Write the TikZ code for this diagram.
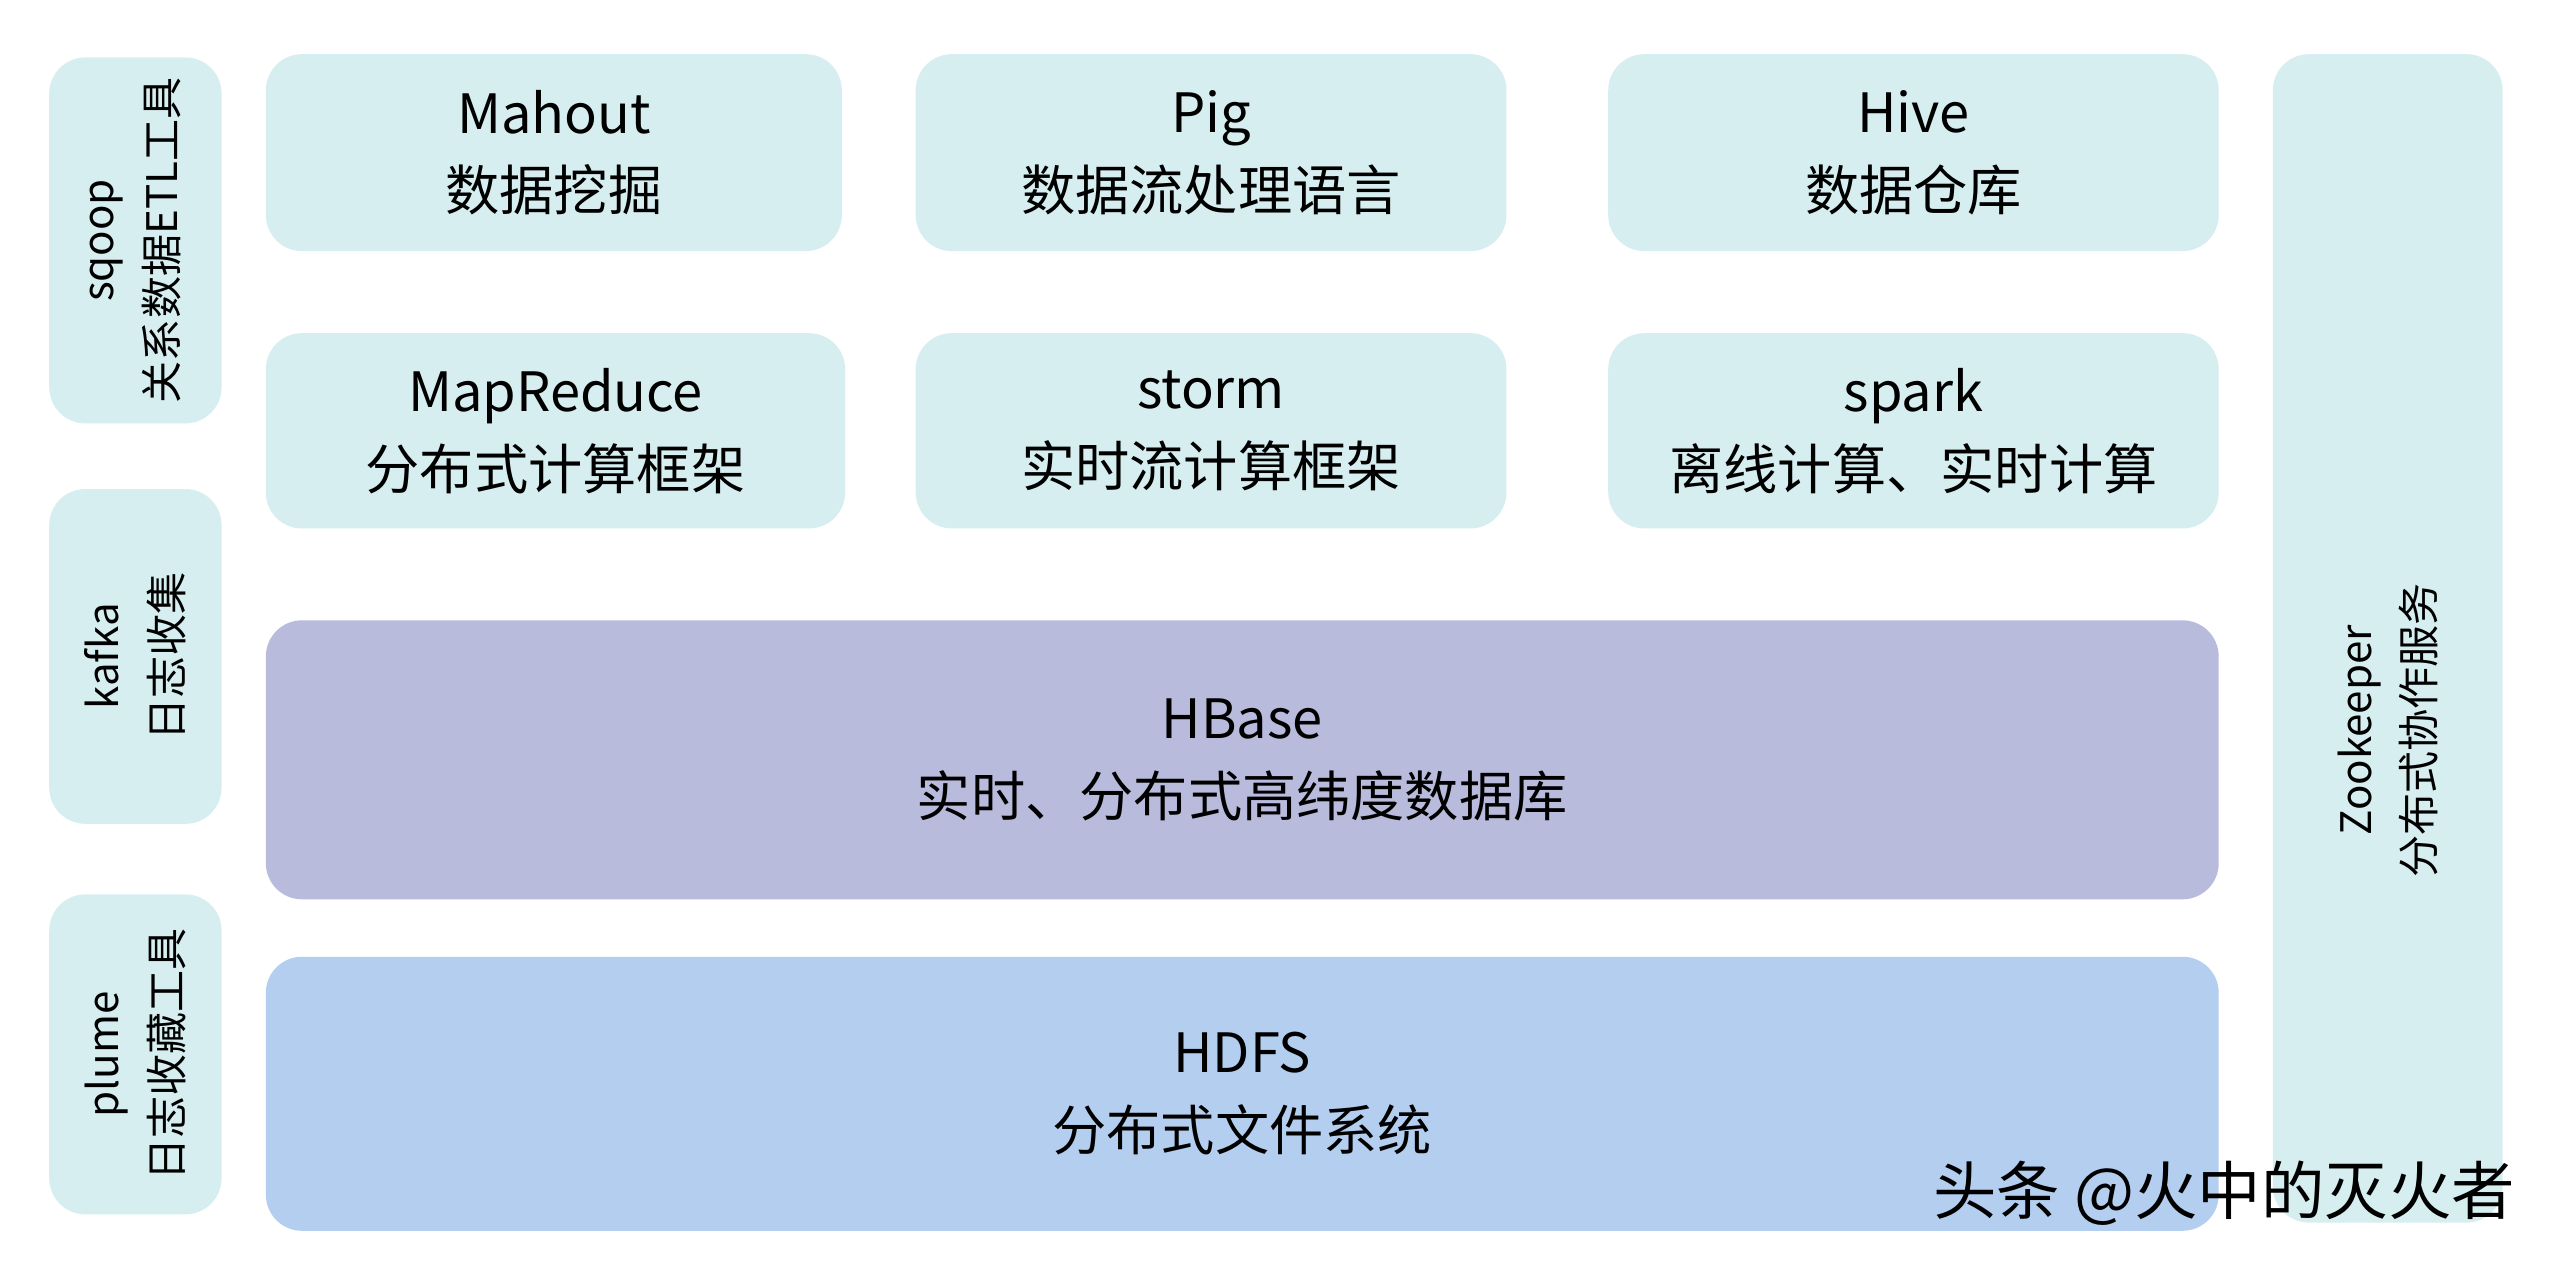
\documentclass[tikz,border=0pt]{standalone}
\usepackage{fontspec}
\setmainfont{Noto Sans CJK SC}
\usetikzlibrary{positioning}
\definecolor{lightbox}{HTML}{D6EEF0}
\definecolor{hbasebox}{HTML}{B9BBDC}
\definecolor{hdfsbox}{HTML}{B4CEF0}
\tikzset{
  layer/.style={rounded corners=0.22cm, fill=lightbox, align=center, inner sep=0pt,
    font=\fontsize{9.4}{13.5}\selectfont},
  sidebox/.style={layer},
  sidetext/.style={rotate=90, align=center, font=\fontsize{7.3}{11}\selectfont},
}
\begin{document}
\begin{tikzpicture}[y=-1cm]
  \useasboundingbox[fill=white] (0,0) rectangle (15.6,7.76);
  % left column
  \node[sidebox, minimum width=1.05cm, minimum height=2.23cm] (sqoop) at (0.825,1.465) {};
  \node[sidetext] (sqooptxt) at (sqoop) {sqoop\\关系数据ETL工具};
  \node[sidebox, minimum width=1.05cm, minimum height=2.04cm] (kafka) at (0.825,4.0) {};
  \node[sidetext] (kafkatxt) at (kafka) {kafka\\日志收集};
  \node[sidebox, minimum width=1.05cm, minimum height=1.95cm] (plume) at (0.825,6.425) {};
  \node[sidetext] (plumetxt) at (plume) {plume\\日志收藏工具};
  % top rows
  \node[layer, minimum width=3.51cm, minimum height=1.2cm] (mahout) at (3.375,0.93) {Mahout\\数据挖掘};
  \node[layer, minimum width=3.6cm, minimum height=1.2cm] (pig) at (7.38,0.93) {Pig\\数据流处理语言};
  \node[layer, minimum width=3.72cm, minimum height=1.2cm] (hive) at (11.66,0.93) {Hive\\数据仓库};
  \node[layer, minimum width=3.53cm, minimum height=1.19cm] (mapreduce) at (3.385,2.625) {MapReduce\\分布式计算框架};
  \node[layer, minimum width=3.6cm, minimum height=1.19cm] (storm) at (7.38,2.625) {storm\\实时流计算框架};
  \node[layer, minimum width=3.72cm, minimum height=1.19cm] (spark) at (11.66,2.625) {spark\\离线计算、实时计算};
  % storage
  \node[layer, fill=hbasebox, minimum width=11.9cm, minimum height=1.7cm] (hbase) at (7.57,4.63) {HBase\\实时、分布式高纬度数据库};
  \node[layer, fill=hdfsbox, minimum width=11.9cm, minimum height=1.67cm] (hdfs) at (7.57,6.665) {HDFS\\分布式文件系统};
  % right column
  \node[sidebox, minimum width=1.4cm, minimum height=7.12cm] (zk) at (14.55,3.89) {};
  \node[sidetext] (zktxt) at (14.55,4.45) {Zookeeper\\分布式协作服务};
  % watermark
  \node[anchor=east, font=\fontsize{11}{12}\selectfont] (mark) at (15.45,7.27) {头条 @火中的灭火者};
\end{tikzpicture}
\end{document}
